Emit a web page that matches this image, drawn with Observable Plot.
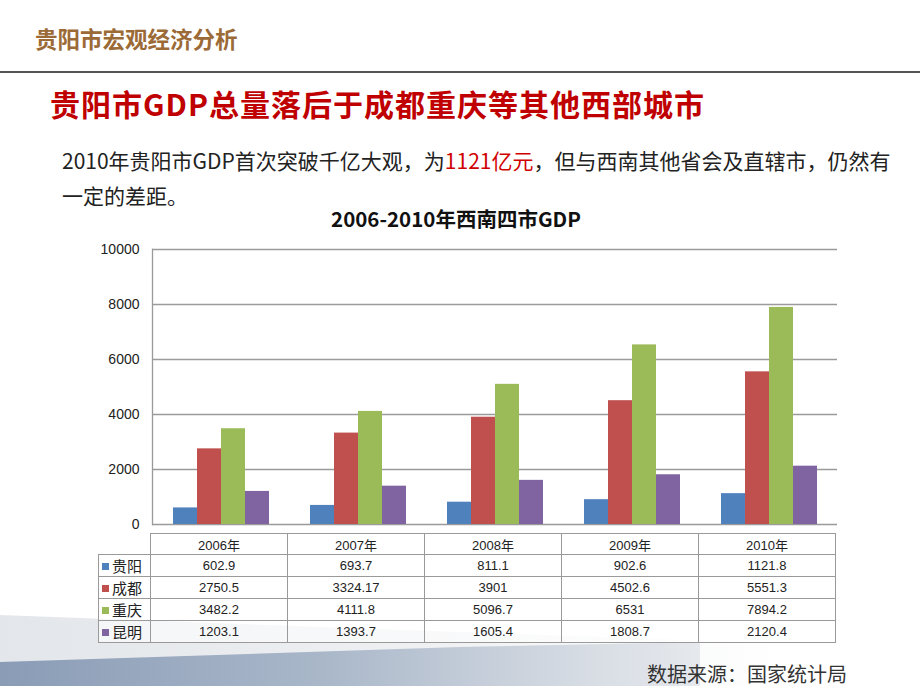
<!DOCTYPE html>
<html>
<head>
<meta charset="utf-8">
<script src="https://cdn.jsdelivr.net/npm/d3@7"></script>
<script src="https://cdn.jsdelivr.net/npm/@observablehq/plot@0.6"></script>
<style>
  html, body { margin: 0; padding: 0; background: #fff; }
  #page { position: relative; width: 920px; height: 690px; overflow: hidden; background: #fff;
          font-family: "Noto Sans CJK SC", "Noto Sans", sans-serif; }
  .swoosh1 { position: absolute; left: 0; top: 0; width: 920px; height: 690px;
     clip-path: polygon(0px 615px, 460px 632px, 920px 648px, 920px 686px, 0px 686px);
     background: linear-gradient(90deg, #e3e6ea 0%, #eef0f2 45%, rgba(255,255,255,0) 85%); }
  .swoosh2 { position: absolute; left: 0; top: 0; width: 920px; height: 690px;
     clip-path: polygon(0px 662px, 460px 647px, 700px 642px, 700px 686px, 0px 686px);
     background: linear-gradient(90deg, #8a9cb6 0%, #a9b7c9 35%, #d9dee5 65%, rgba(255,255,255,0) 95%); }
  #header { position: absolute; left: 35px; top: 22px; font-size: 22.5px; font-weight: 700; color: #9b6a36; }
  #rule { position: absolute; left: 0; top: 71px; width: 920px; height: 2px; background: #555; }
  #title { position: absolute; left: 50px; top: 81px; font-size: 30px; font-weight: 700; color: #c00000; letter-spacing: 1px; white-space: nowrap; }
  .sub { position: absolute; left: 62px; font-size: 21px; color: #222; line-height: 28px; white-space: nowrap; }
  #sub1 { top: 146px; }
  #sub2 { top: 181px; }
  .red { color: #d00000; }
  #ctitle { position: absolute; left: 0; width: 912px; top: 205px; text-align: center; font-size: 20.5px; font-weight: 700; color: #111; line-height: 26px; }
  #chart { position: absolute; left: 80px; top: 239px; }
  #tbl { position: absolute; left: 98px; top: 533px; border-collapse: collapse; table-layout: fixed;
         font-family: "Liberation Sans", "Noto Sans CJK SC", sans-serif; font-size: 13px; color: #222; }
  #tbl td { border: 1.5px solid #9a9a9a; text-align: center; padding: 0; height: 20px; background: rgba(255,255,255,0.6); }
  #tbl td.lab { text-align: left; padding-left: 3px; font-family: "Noto Sans CJK SC", sans-serif; font-size: 15px; white-space: nowrap; }
  #tbl td.empty { border-left: none; border-top: none; border-bottom: 1.5px solid #9a9a9a; background: none; }
  .sq { display: inline-block; width: 7px; height: 7px; margin-right: 3px; vertical-align: 2px; }
  #src { position: absolute; left: 647px; top: 659px; font-size: 20px; color: #333; }
</style>
</head>
<body>
<div id="page">
  <div class="swoosh1"></div>
  <div class="swoosh2"></div>
  <div id="header">贵阳市宏观经济分析</div>
  <div id="rule"></div>
  <div id="title">贵阳市GDP总量落后于成都重庆等其他西部城市</div>
  <div class="sub" id="sub1"><span>2010年贵阳市GDP首次突破千亿大观，为</span><span class="red">1121亿元</span><span>，但与西南其他省会及直辖市，仍然有</span></div>
  <div class="sub" id="sub2">一定的差距。</div>
  <div id="ctitle">2006-2010年西南四市GDP</div>
  <div id="chart"></div>
  <table id="tbl"></table>
  <div id="src">数据来源：国家统计局</div>
</div>
<script>
// ---- data ----
const years = ["2006年", "2007年", "2008年", "2009年", "2010年"];
const cities = ["贵阳", "成都", "重庆", "昆明"];
const guiyang   = [602.9, 693.7, 811.1, 902.6, 1121.8];
const chengdu   = [2750.5, 3324.17, 3901, 4502.6, 5551.3];
const chongqing = [3482.2, 4111.8, 5096.7, 6531, 7894.2];
const kunming   = [1203.1, 1393.7, 1605.4, 1808.7, 2120.4];
const yTicks = [0, 2000, 4000, 6000, 8000, 10000];
const colors = ["#4f81bd", "#c0504d", "#9bbb59", "#8064a2"];

const series = [guiyang, chengdu, chongqing, kunming];
const data = years.flatMap((y, i) => cities.map((c, j) => ({year: y, city: c, value: series[j][i]})));

const chart = Plot.plot({
  width: 770,
  height: 296,
  marginLeft: 70,
  marginRight: 12,
  marginTop: 10,
  marginBottom: 11,
  style: {fontFamily: "Liberation Sans, sans-serif", fontSize: "14px", color: "#222", background: "transparent"},
  fx: {domain: years, padding: 0, axis: null},
  x: {domain: cities, paddingInner: 0, paddingOuter: 0.75, axis: null},
  y: {domain: [0, 10000], label: null},
  color: {domain: cities, range: colors},
  marks: [
    Plot.ruleY(yTicks, {stroke: "#9a9a9a", strokeWidth: 1.3}),
    Plot.barY(data, {fx: "year", x: "city", y: "value", fill: "city"}),
    Plot.axisY(yTicks, {tickSize: 0, tickPadding: 13, fontSize: 14, label: null, fill: "#222", tickFormat: d => String(d)}),
    Plot.frame({anchor: "left", facetAnchor: "left", stroke: "#9a9a9a", strokeWidth: 1.3})
  ]
});
document.getElementById("chart").appendChild(chart);

// ---- data table under the chart, aligned with fx bands ----
const fx = chart.scale("fx");
const tbl = document.getElementById("tbl");
const colg = document.createElement("colgroup");
const c0 = document.createElement("col"); c0.style.width = "52px"; colg.appendChild(c0);
years.forEach(() => { const c = document.createElement("col"); c.style.width = fx.bandwidth + "px"; colg.appendChild(c); });
tbl.appendChild(colg);
const hr = document.createElement("tr");
const e = document.createElement("td"); e.className = "empty"; hr.appendChild(e);
years.forEach(y => { const td = document.createElement("td"); td.textContent = y; hr.appendChild(td); });
tbl.appendChild(hr);
cities.forEach((c, j) => {
  const tr = document.createElement("tr");
  const lab = document.createElement("td"); lab.className = "lab";
  const sq = document.createElement("span"); sq.className = "sq"; sq.style.background = colors[j];
  lab.appendChild(sq); lab.appendChild(document.createTextNode(c));
  tr.appendChild(lab);
  series[j].forEach(v => { const td = document.createElement("td"); td.textContent = String(v); tr.appendChild(td); });
  tbl.appendChild(tr);
});
</script>
</body>
</html>
